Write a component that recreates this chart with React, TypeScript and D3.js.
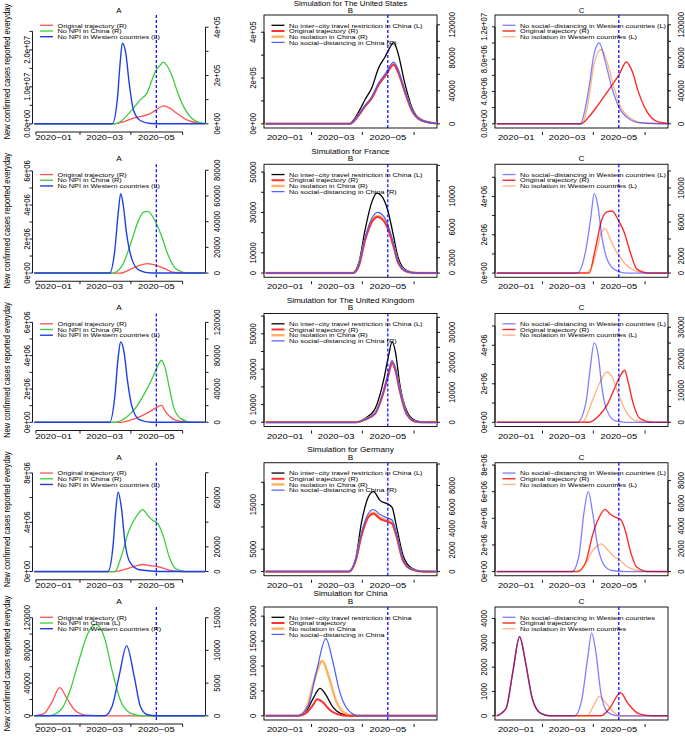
import * as d3 from "d3";

type Pt = [string, number];

// ---------- United States ----------
const usA_original: Pt[] = [["2019-12-09", 0], ["2020-03-12", 0], ["2020-03-24", 9000], ["2020-04-04", 23600], ["2020-04-12", 30000], ["2020-04-20", 37000], ["2020-04-26", 47000], ["2020-05-01", 58000], ["2020-05-09", 74000], ["2020-05-17", 65000], ["2020-05-25", 44000], ["2020-06-06", 16500], ["2020-06-21", 3000], ["2020-06-28", 1000]];
const usA_noNpiChina: Pt[] = [["2019-12-09", 0], ["2020-03-12", 0], ["2020-03-20", 9500], ["2020-03-28", 37000], ["2020-04-04", 65000], ["2020-04-12", 99000], ["2020-04-20", 127000], ["2020-04-26", 182000], ["2020-05-01", 223000], ["2020-05-06", 244000], ["2020-05-09", 255000], ["2020-05-13", 244000], ["2020-05-19", 203000], ["2020-05-25", 141000], ["2020-06-02", 72000], ["2020-06-10", 30000], ["2020-06-21", 5000], ["2020-06-28", 1500]];
const usA_noNpiWest: Pt[] = [["2019-12-09", 0], ["2020-03-10", 0], ["2020-03-16", 6.5e6], ["2020-03-19", 1.55e7], ["2020-03-22", 2.18e7], ["2020-03-26", 1.91e7], ["2020-03-30", 1.1e7], ["2020-04-04", 3.8e6], ["2020-04-12", 9e5], ["2020-04-24", 1e5], ["2020-05-10", 0], ["2020-06-28", 0]];
const usB_interCity: Pt[] = [["2019-12-09", 0], ["2020-03-16", 0], ["2020-03-28", 54000], ["2020-04-04", 105000], ["2020-04-12", 156000], ["2020-04-20", 243000], ["2020-04-28", 294000], ["2020-05-02", 323000], ["2020-05-08", 355000], ["2020-05-13", 309000], ["2020-05-21", 178000], ["2020-05-29", 75000], ["2020-06-10", 17000], ["2020-06-26", 2000], ["2020-06-28", 1000]];
const usB_original: Pt[] = [["2019-12-09", 0], ["2020-03-17", 0], ["2020-03-28", 10900], ["2020-04-04", 21000], ["2020-04-12", 31000], ["2020-04-20", 47000], ["2020-04-28", 58000], ["2020-05-08", 71500], ["2020-05-13", 63000], ["2020-05-21", 39000], ["2020-05-29", 17000], ["2020-06-10", 4000], ["2020-06-28", 300]];
const usB_noIsolation: Pt[] = [["2019-12-09", 0], ["2020-03-17", 0], ["2020-03-28", 11000], ["2020-04-04", 21300], ["2020-04-12", 31500], ["2020-04-20", 47600], ["2020-04-28", 58700], ["2020-05-08", 72300], ["2020-05-13", 63700], ["2020-05-21", 39500], ["2020-05-29", 17200], ["2020-06-10", 4100], ["2020-06-28", 300]];
const usB_noSocial: Pt[] = [["2019-12-09", 0], ["2020-03-17", 0], ["2020-03-28", 11300], ["2020-04-04", 22000], ["2020-04-12", 32500], ["2020-04-20", 49000], ["2020-04-28", 60500], ["2020-05-08", 74800], ["2020-05-13", 66000], ["2020-05-21", 40500], ["2020-05-29", 17800], ["2020-06-10", 4200], ["2020-06-28", 300]];
const usC_noSocialWest: Pt[] = [["2019-12-09", 0], ["2020-03-17", 0], ["2020-03-22", 1.7e6], ["2020-03-27", 4.6e6], ["2020-04-02", 8.75e6], ["2020-04-08", 1.0e7], ["2020-04-15", 7.7e6], ["2020-04-23", 4.4e6], ["2020-05-01", 2.1e6], ["2020-05-12", 7e5], ["2020-05-28", 1e5], ["2020-06-28", 0]];
const usC_original: Pt[] = [["2019-12-09", 0], ["2020-03-17", 0], ["2020-03-27", 8800], ["2020-04-08", 25000], ["2020-04-15", 35000], ["2020-04-23", 47000], ["2020-05-01", 59000], ["2020-05-10", 75000], ["2020-05-17", 63000], ["2020-05-24", 39000], ["2020-06-03", 15000], ["2020-06-13", 4000], ["2020-06-28", 500]];
const usC_noIsolationWest: Pt[] = [["2019-12-09", 0], ["2020-03-18", 0], ["2020-03-23", 1.2e6], ["2020-03-27", 3.4e6], ["2020-04-02", 7.5e6], ["2020-04-10", 9.2e6], ["2020-04-17", 7.7e6], ["2020-04-25", 4.6e6], ["2020-05-03", 2.1e6], ["2020-05-12", 9e5], ["2020-05-28", 1.5e5], ["2020-06-28", 0]];

// ---------- France ----------
const frA_original: Pt[] = [["2019-12-09", 0], ["2020-03-19", 0], ["2020-04-02", 3400], ["2020-04-11", 6000], ["2020-04-21", 7300], ["2020-05-01", 6000], ["2020-05-11", 3400], ["2020-05-20", 800], ["2020-06-05", 0], ["2020-06-28", 0]];
const frA_noNpiChina: Pt[] = [["2019-12-09", 0], ["2020-03-11", 0], ["2020-03-23", 7300], ["2020-04-02", 25400], ["2020-04-10", 41000], ["2020-04-16", 47500], ["2020-04-21", 48000], ["2020-04-27", 43600], ["2020-05-01", 38400], ["2020-05-07", 29300], ["2020-05-15", 13800], ["2020-05-24", 3400], ["2020-06-08", 0], ["2020-06-28", 0]];
const frA_noNpiWest: Pt[] = [["2019-12-09", 0], ["2020-03-07", 0], ["2020-03-13", 1.33e6], ["2020-03-17", 3.5e6], ["2020-03-20", 4.67e6], ["2020-03-23", 4.0e6], ["2020-03-27", 2.3e6], ["2020-04-02", 8.5e5], ["2020-04-11", 1.6e5], ["2020-04-25", 0], ["2020-06-28", 0]];
const frB_interCity: Pt[] = [["2019-12-09", 0], ["2020-03-20", 0], ["2020-03-28", 5400], ["2020-04-04", 21000], ["2020-04-12", 35000], ["2020-04-18", 39600], ["2020-04-24", 38000], ["2020-05-01", 31000], ["2020-05-08", 17800], ["2020-05-13", 7900], ["2020-05-23", 1300], ["2020-06-05", 0], ["2020-06-28", 0]];
const frB_original: Pt[] = [["2019-12-09", 0], ["2020-03-21", 0], ["2020-03-28", 1000], ["2020-04-04", 4200], ["2020-04-12", 6600], ["2020-04-19", 7300], ["2020-04-26", 6800], ["2020-05-01", 5800], ["2020-05-08", 3400], ["2020-05-13", 1400], ["2020-05-23", 200], ["2020-06-05", 0], ["2020-06-28", 0]];
const frB_noIsolation: Pt[] = [["2019-12-09", 0], ["2020-03-21", 0], ["2020-03-28", 1020], ["2020-04-04", 4280], ["2020-04-12", 6720], ["2020-04-19", 7430], ["2020-04-26", 6930], ["2020-05-01", 5900], ["2020-05-08", 3460], ["2020-05-13", 1430], ["2020-05-23", 200], ["2020-06-05", 0], ["2020-06-28", 0]];
const frB_noSocial: Pt[] = [["2019-12-09", 0], ["2020-03-21", 0], ["2020-03-28", 1100], ["2020-04-04", 4500], ["2020-04-12", 7100], ["2020-04-19", 7900], ["2020-04-26", 7400], ["2020-05-01", 6300], ["2020-05-08", 3700], ["2020-05-13", 1500], ["2020-05-23", 220], ["2020-06-05", 0], ["2020-06-28", 0]];
const frC_noSocialWest: Pt[] = [["2019-12-09", 0], ["2020-03-13", 0], ["2020-03-23", 1.18e6], ["2020-03-29", 2.9e6], ["2020-04-02", 4.15e6], ["2020-04-06", 3.6e6], ["2020-04-11", 1.9e6], ["2020-04-17", 7.5e5], ["2020-04-27", 1.5e5], ["2020-05-10", 0], ["2020-06-28", 0]];
const frC_original: Pt[] = [["2019-12-09", 0], ["2020-03-27", 0], ["2020-04-03", 2700], ["2020-04-11", 6300], ["2020-04-17", 7200], ["2020-04-23", 7300], ["2020-05-01", 6100], ["2020-05-07", 4900], ["2020-05-15", 2300], ["2020-05-22", 500], ["2020-06-05", 0], ["2020-06-28", 0]];
const frC_noIsolationWest: Pt[] = [["2019-12-09", 0], ["2020-03-22", 0], ["2020-03-30", 3e5], ["2020-04-05", 1.2e6], ["2020-04-10", 2.06e6], ["2020-04-15", 2.32e6], ["2020-04-21", 1.75e6], ["2020-04-27", 1.2e6], ["2020-05-01", 9.2e5], ["2020-05-08", 5e5], ["2020-05-15", 2.4e5], ["2020-05-28", 4e4], ["2020-06-28", 0]];

// ---------- United Kingdom ----------
const ukA_original: Pt[] = [["2019-12-09", 0], ["2020-03-19", 0], ["2020-04-06", 4400], ["2020-04-19", 10400], ["2020-04-29", 16400], ["2020-05-07", 20400], ["2020-05-12", 12400], ["2020-05-20", 4400], ["2020-05-30", 1000], ["2020-06-12", 0], ["2020-06-28", 0]];
const ukA_noNpiChina: Pt[] = [["2019-12-09", 0], ["2020-03-13", 0], ["2020-03-27", 6400], ["2020-04-06", 16400], ["2020-04-17", 34400], ["2020-04-27", 54500], ["2020-05-03", 68500], ["2020-05-07", 74500], ["2020-05-11", 66500], ["2020-05-17", 38400], ["2020-05-22", 16400], ["2020-05-30", 4400], ["2020-06-12", 0], ["2020-06-28", 0]];
const ukA_noNpiWest: Pt[] = [["2019-12-09", 0], ["2020-03-07", 0], ["2020-03-13", 1.52e6], ["2020-03-17", 3.9e6], ["2020-03-20", 4.82e6], ["2020-03-24", 4.2e6], ["2020-03-28", 2.5e6], ["2020-04-02", 1.0e6], ["2020-04-11", 1.6e5], ["2020-04-25", 0], ["2020-06-28", 0]];
const ukB_interCity: Pt[] = [["2019-12-09", 0], ["2020-03-24", 0], ["2020-04-04", 2100], ["2020-04-16", 7700], ["2020-04-26", 23700], ["2020-05-02", 37900], ["2020-05-06", 45400], ["2020-05-10", 39700], ["2020-05-15", 21900], ["2020-05-23", 6800], ["2020-06-02", 1100], ["2020-06-15", 0], ["2020-06-28", 0]];
const ukB_original: Pt[] = [["2019-12-09", 0], ["2020-03-24", 0], ["2020-04-04", 900], ["2020-04-16", 2900], ["2020-04-26", 10100], ["2020-05-02", 16200], ["2020-05-06", 19800], ["2020-05-10", 17300], ["2020-05-15", 10700], ["2020-05-23", 2900], ["2020-06-02", 300], ["2020-06-15", 0], ["2020-06-28", 0]];
const ukB_noIsolation: Pt[] = [["2019-12-09", 0], ["2020-03-24", 0], ["2020-04-04", 920], ["2020-04-16", 2950], ["2020-04-26", 10300], ["2020-05-02", 16500], ["2020-05-06", 20100], ["2020-05-10", 17600], ["2020-05-15", 10900], ["2020-05-23", 2950], ["2020-06-02", 300], ["2020-06-15", 0], ["2020-06-28", 0]];
const ukB_noSocial: Pt[] = [["2019-12-09", 0], ["2020-03-24", 0], ["2020-04-04", 950], ["2020-04-16", 3050], ["2020-04-26", 10500], ["2020-05-02", 16900], ["2020-05-06", 20700], ["2020-05-10", 18000], ["2020-05-15", 11100], ["2020-05-23", 3000], ["2020-06-02", 320], ["2020-06-15", 0], ["2020-06-28", 0]];
const ukC_noSocialWest: Pt[] = [["2019-12-09", 0], ["2020-03-13", 0], ["2020-03-23", 9.7e5], ["2020-03-28", 2.7e6], ["2020-04-02", 4.12e6], ["2020-04-07", 3.4e6], ["2020-04-11", 1.83e6], ["2020-04-17", 6.2e5], ["2020-04-27", 7e4], ["2020-05-10", 0], ["2020-06-28", 0]];
const ukC_original: Pt[] = [["2019-12-09", 0], ["2020-03-27", 0], ["2020-04-08", 2200], ["2020-04-17", 5400], ["2020-04-25", 10100], ["2020-05-03", 14800], ["2020-05-08", 16400], ["2020-05-12", 12700], ["2020-05-18", 5900], ["2020-05-26", 1200], ["2020-06-10", 0], ["2020-06-28", 0]];
const ukC_noIsolationWest: Pt[] = [["2019-12-09", 0], ["2020-03-19", 0], ["2020-03-31", 1.14e6], ["2020-04-08", 2.0e6], ["2020-04-17", 2.61e6], ["2020-04-23", 2.35e6], ["2020-05-01", 1.4e6], ["2020-05-11", 4.5e5], ["2020-05-22", 7e4], ["2020-06-05", 0], ["2020-06-28", 0]];

// ---------- Germany ----------
const deA_original: Pt[] = [["2019-12-09", 0], ["2020-03-13", 0], ["2020-03-27", 2200], ["2020-04-08", 4900], ["2020-04-16", 5700], ["2020-04-23", 4900], ["2020-05-01", 4300], ["2020-05-09", 2700], ["2020-05-19", 800], ["2020-06-03", 0], ["2020-06-28", 0]];
const deA_noNpiChina: Pt[] = [["2019-12-09", 0], ["2020-03-13", 0], ["2020-03-21", 13000], ["2020-03-29", 31800], ["2020-04-08", 45300], ["2020-04-15", 50200], ["2020-04-21", 45300], ["2020-04-27", 41300], ["2020-05-03", 38600], ["2020-05-09", 29100], ["2020-05-17", 10300], ["2020-05-24", 2200], ["2020-06-05", 0], ["2020-06-28", 0]];
const deA_noNpiWest: Pt[] = [["2019-12-09", 0], ["2020-03-05", 0], ["2020-03-11", 2.1e6], ["2020-03-14", 4.8e6], ["2020-03-17", 6.43e6], ["2020-03-21", 5.08e6], ["2020-03-25", 2.38e6], ["2020-03-31", 7.5e5], ["2020-04-11", 1.5e5], ["2020-04-25", 5e4], ["2020-05-10", 0], ["2020-06-28", 0]];
const deB_interCity: Pt[] = [["2019-12-09", 0], ["2020-03-16", 0], ["2020-03-24", 2800], ["2020-03-31", 11000], ["2020-04-08", 16700], ["2020-04-14", 17900], ["2020-04-22", 15900], ["2020-04-30", 15200], ["2020-05-06", 14400], ["2020-05-11", 10300], ["2020-05-19", 3600], ["2020-05-29", 800], ["2020-06-12", 0], ["2020-06-28", 0]];
const deB_original: Pt[] = [["2019-12-09", 0], ["2020-03-16", 0], ["2020-03-24", 1000], ["2020-03-31", 3350], ["2020-04-08", 5050], ["2020-04-14", 5370], ["2020-04-22", 4900], ["2020-04-30", 4650], ["2020-05-06", 4440], ["2020-05-11", 3350], ["2020-05-19", 1000], ["2020-05-29", 200], ["2020-06-12", 0], ["2020-06-28", 0]];
const deB_noIsolation: Pt[] = [["2019-12-09", 0], ["2020-03-16", 0], ["2020-03-24", 1020], ["2020-03-31", 3420], ["2020-04-08", 5150], ["2020-04-14", 5480], ["2020-04-22", 5000], ["2020-04-30", 4740], ["2020-05-06", 4530], ["2020-05-11", 3420], ["2020-05-19", 1020], ["2020-05-29", 200], ["2020-06-12", 0], ["2020-06-28", 0]];
const deB_noSocial: Pt[] = [["2019-12-09", 0], ["2020-03-16", 0], ["2020-03-24", 1100], ["2020-03-31", 3600], ["2020-04-08", 5400], ["2020-04-14", 5770], ["2020-04-22", 5300], ["2020-04-30", 5000], ["2020-05-06", 4800], ["2020-05-11", 3600], ["2020-05-19", 1100], ["2020-05-29", 220], ["2020-06-12", 0], ["2020-06-28", 0]];
const deC_noSocialWest: Pt[] = [["2019-12-09", 0], ["2020-03-07", 0], ["2020-03-15", 1.2e6], ["2020-03-21", 4.46e6], ["2020-03-26", 6.0e6], ["2020-03-31", 4.46e6], ["2020-04-06", 1.95e6], ["2020-04-14", 4.5e5], ["2020-04-23", 8e4], ["2020-05-10", 0], ["2020-06-28", 0]];
const deC_original: Pt[] = [["2019-12-09", 0], ["2020-03-13", 0], ["2020-03-23", 820], ["2020-03-31", 3200], ["2020-04-07", 4650], ["2020-04-15", 5470], ["2020-04-20", 5100], ["2020-04-26", 4800], ["2020-05-03", 4600], ["2020-05-08", 3770], ["2020-05-15", 1700], ["2020-05-22", 400], ["2020-06-05", 0], ["2020-06-28", 0]];
const deC_noIsolationWest: Pt[] = [["2019-12-09", 0], ["2020-03-13", 0], ["2020-03-23", 5.8e5], ["2020-03-31", 1.58e6], ["2020-04-06", 1.95e6], ["2020-04-10", 2.08e6], ["2020-04-17", 1.7e6], ["2020-04-25", 1.15e6], ["2020-05-01", 9e5], ["2020-05-12", 3.2e5], ["2020-05-28", 3e4], ["2020-06-28", 0]];

// ---------- China ----------
const cnA_original: Pt[] = [["2019-12-09", 0], ["2019-12-20", 300], ["2019-12-30", 2100], ["2020-01-08", 4300], ["2020-01-16", 2800], ["2020-01-26", 850], ["2020-02-08", 100], ["2020-03-01", 0], ["2020-06-28", 0]];
const cnA_noNpiChina: Pt[] = [["2019-12-09", 0], ["2019-12-26", 0], ["2020-01-10", 8000], ["2020-01-20", 30000], ["2020-01-30", 65000], ["2020-02-10", 100000], ["2020-02-20", 112000], ["2020-03-01", 95000], ["2020-03-10", 55000], ["2020-03-20", 18000], ["2020-04-01", 3000], ["2020-04-15", 0], ["2020-06-28", 0]];
const cnA_noNpiWest: Pt[] = [["2019-12-09", 0], ["2020-03-01", 0], ["2020-03-10", 1500], ["2020-03-18", 6000], ["2020-03-27", 10700], ["2020-04-05", 6000], ["2020-04-12", 1500], ["2020-04-20", 200], ["2020-05-01", 0], ["2020-06-28", 0]];
const cnB_interCity: Pt[] = [["2019-12-09", 0], ["2020-01-16", 0], ["2020-01-26", 1000], ["2020-02-03", 3500], ["2020-02-11", 5500], ["2020-02-18", 4200], ["2020-02-26", 1800], ["2020-03-06", 500], ["2020-03-20", 0], ["2020-06-28", 0]];
const cnB_original: Pt[] = [["2019-12-09", 0], ["2020-01-16", 0], ["2020-01-26", 600], ["2020-02-02", 2000], ["2020-02-08", 3300], ["2020-02-15", 2600], ["2020-02-23", 1100], ["2020-03-03", 300], ["2020-03-15", 0], ["2020-06-28", 0]];
const cnB_noIsolation: Pt[] = [["2019-12-09", 0], ["2020-01-16", 0], ["2020-01-26", 1500], ["2020-02-04", 7000], ["2020-02-14", 11000], ["2020-02-21", 8000], ["2020-03-01", 3000], ["2020-03-10", 700], ["2020-03-22", 0], ["2020-06-28", 0]];
const cnB_noSocial: Pt[] = [["2019-12-09", 0], ["2020-01-16", 0], ["2020-01-28", 2000], ["2020-02-07", 9000], ["2020-02-18", 15500], ["2020-02-26", 11000], ["2020-03-05", 5000], ["2020-03-15", 1200], ["2020-03-28", 0], ["2020-06-28", 0]];
const cnC_noSocialWest: Pt[] = [["2019-12-09", 0], ["2019-12-20", 300], ["2019-12-28", 1800], ["2020-01-05", 3250], ["2020-01-12", 2200], ["2020-01-20", 700], ["2020-01-30", 100], ["2020-02-10", 0], ["2020-03-10", 0], ["2020-03-18", 600], ["2020-03-25", 2300], ["2020-03-30", 3400], ["2020-04-04", 2600], ["2020-04-10", 900], ["2020-04-18", 150], ["2020-04-30", 0], ["2020-06-28", 0]];
const cnC_original: Pt[] = [["2019-12-09", 0], ["2019-12-20", 300], ["2019-12-28", 1800], ["2020-01-05", 3250], ["2020-01-12", 2200], ["2020-01-20", 700], ["2020-01-30", 100], ["2020-02-10", 0], ["2020-04-10", 0], ["2020-04-20", 300], ["2020-05-03", 950], ["2020-05-12", 500], ["2020-05-25", 80], ["2020-06-10", 0], ["2020-06-28", 0]];
const cnC_noIsolationWest: Pt[] = [["2019-12-09", 0], ["2019-12-20", 300], ["2019-12-28", 1800], ["2020-01-05", 3250], ["2020-01-12", 2200], ["2020-01-20", 700], ["2020-01-30", 100], ["2020-02-10", 0], ["2020-03-25", 0], ["2020-04-01", 400], ["2020-04-08", 800], ["2020-04-15", 550], ["2020-04-25", 150], ["2020-05-05", 0], ["2020-06-28", 0]];

// ---------- titles, legends, axes ----------
const countries = ["The United States", "France", "The United Kingdom", "Germany", "China"];
const legendA = ["Original trajectory (R)", "No NPI in China (R)", "No NPI in Western countries (L)"];
const legendB = ["No inter-city travel restriction in China (L)", "Original trajectory (R)", "No isolation in China (R)", "No social-distancing in China (R)"];
const legendC = ["No social-distancing in Western countries (L)", "Original trajectory (R)", "No isolation in Western countries (L)"];
const legendA_cn = ["Original trajectory (R)", "No NPI in China (L)", "No NPI in Western countries (R)"];
const legendB_cn = ["No inter-city travel restriction in China", "Original trajectory", "No isolation in China", "No social-distancing in China"];
const legendC_cn = ["No social-distancing in Western countries", "Original trajectory", "No isolation in Western countries"];
const xLabels = ["2020-01", "2020-03", "2020-05"];
const xTicks = ["2020-02-01", "2020-04-01", "2020-06-01"];
const interventionDate = "2020-05-01";

// axis: [max value at plot top, tick step, shown labels]
type Ax = [number, number, string[]];
const axes: Ax[][] = [
  [[2.83e7, 5e6, ["0.0e+00", "1.0e+07", "2.0e+07"]], [4.33e5, 1e5, ["0e+00", "2e+05", "4e+05"]],
   [4.57e5, 1e5, ["0e+00", "2e+05", "4e+05"]], [126800, 20000, ["0", "40000", "80000", "120000"]],
   [1.295e7, 2e6, ["0.0e+00", "4.0e+06", "8.0e+06", "1.2e+07"]], [126800, 20000, ["0", "40000", "80000", "120000"]]],
  [[6.15e6, 1e6, ["0e+00", "2e+06", "4e+06", "6e+06"]], [81400, 20000, ["0", "20000", "40000", "60000", "80000"]],
   [51800, 10000, ["0", "10000", "30000", "50000"]], [13600, 2000, ["0", "2000", "6000", "10000"]],
   [5.46e6, 1e6, ["0e+00", "2e+06", "4e+06"]], [12300, 2000, ["0", "2000", "6000", "10000"]]],
  [[6.28e6, 1e6, ["0e+00", "2e+06", "4e+06", "6e+06"]], [125600, 20000, ["0", "40000", "80000", "120000"]],
   [59100, 10000, ["0", "10000", "30000", "50000"]], [34900, 5000, ["0", "10000", "20000", "30000"]],
   [5.43e6, 1e6, ["0e+00", "2e+06", "4e+06"]], [33000, 5000, ["0", "10000", "20000", "30000"]]],
  [[8.49e6, 2e6, ["0e+00", "4e+06", "8e+06"]], [84700, 20000, ["0", "20000", "60000"]],
   [23450, 5000, ["0", "5000", "15000"]], [9730, 2000, ["0", "2000", "4000", "6000", "8000"]],
   [7.86e6, 2e6, ["0e+00", "2e+06", "4e+06", "6e+06", "8e+06"]], [9200, 2000, ["0", "2000", "4000", "6000", "8000"]]],
  [[128000, 20000, ["0", "40000", "80000", "120000"]], [16000, 5000, ["0", "5000", "10000", "15000"]],
   [21000, 5000, ["0", "5000", "10000", "15000", "20000"]], [0, 0, []],
   [4300, 1000, ["0", "1000", "2000", "3000", "4000"]], [0, 0, []]],
];

const seriesA = [[usA_original, usA_noNpiChina, usA_noNpiWest], [frA_original, frA_noNpiChina, frA_noNpiWest], [ukA_original, ukA_noNpiChina, ukA_noNpiWest], [deA_original, deA_noNpiChina, deA_noNpiWest], [cnA_original, cnA_noNpiChina, cnA_noNpiWest]];
const seriesB = [[usB_interCity, usB_original, usB_noIsolation, usB_noSocial], [frB_interCity, frB_original, frB_noIsolation, frB_noSocial], [ukB_interCity, ukB_original, ukB_noIsolation, ukB_noSocial], [deB_interCity, deB_original, deB_noIsolation, deB_noSocial], [cnB_interCity, cnB_original, cnB_noIsolation, cnB_noSocial]];
const seriesC = [[usC_noSocialWest, usC_original, usC_noIsolationWest], [frC_noSocialWest, frC_original, frC_noIsolationWest], [ukC_noSocialWest, ukC_original, ukC_noIsolationWest], [deC_noSocialWest, deC_original, deC_noIsolationWest], [cnC_noSocialWest, cnC_original, cnC_noIsolationWest]];

// ---------- layout ----------
const SX = 1.215; // picture is stretched horizontally
const FONT = "'Liberation Sans', Arial, Helvetica, sans-serif";
const COLS: [number, number][] = [[32.5, 205.5], [264, 437], [495, 668]];
const ROW_TOPS = [15, 164.25, 313.5, 462.75, 607];
const PH = 113;
const PAD = (PH * 0.04) / 1.08;
const LEFT_OFF = [-6, -11, -11.5];
const RIGHT_OFF = [11, 14.5, 13];

const styleA = [{ c: "#FF5252", w: 1.3 }, { c: "#3DCC3D", w: 1.3 }, { c: "#1F3FE6", w: 1.4 }];
const styleB = [{ c: "#000000", w: 1.3 }, { c: "#FF3030", w: 2 }, { c: "#FFB060", w: 2.4 }, { c: "#4A5CFF", w: 1.2 }];
const styleC = [{ c: "rgba(0,0,255,0.5)", w: 1.3 }, { c: "#FF2A2A", w: 1.4 }, { c: "rgba(255,100,0,0.5)", w: 1.3 }];
const sidesA = [["R", "R", "L"], ["R", "R", "L"], ["R", "R", "L"], ["R", "R", "L"], ["R", "L", "R"]];
const sidesB = ["L", "R", "R", "R"];
const sidesC = ["L", "R", "L"];

const parse = d3.timeParse("%Y-%m-%d");
const X_DOMAIN = [parse("2019-12-07")!, parse("2020-06-28")!];

function Txt({ x, y, size, anchor = "middle", rot = false, children }: any) {
  return (
    <text
      transform={`translate(${x},${y}) scale(${SX},1)${rot ? " rotate(-90)" : ""}`}
      fontSize={size}
      textAnchor={anchor}
      dominantBaseline="central"
      fill="#000"
    >
      {children}
    </text>
  );
}

function Panel({ row, col }: { row: number; col: number }) {
  const [x0, x1] = COLS[col];
  const top = ROW_TOPS[row];
  const bottom = top + PH;
  const x = d3.scaleTime().domain(X_DOMAIN).range([x0, x1]);
  const [lAx, rAx] = [axes[row][col * 2], axes[row][col * 2 + 1]];
  const yL = d3.scaleLinear().domain([0, lAx[0]]).range([bottom - PAD, top + PAD]);
  const yR = d3.scaleLinear().domain([0, rAx[0] || 1]).range([bottom - PAD, top + PAD]);

  const data = col === 0 ? seriesA[row] : col === 1 ? seriesB[row] : seriesC[row];
  const styles = col === 0 ? styleA : col === 1 ? styleB : styleC;
  const sides = col === 0 ? sidesA[row] : col === 1 ? sidesB : sidesC;
  const labels = row === 4
    ? [legendA_cn, legendB_cn, legendC_cn][col]
    : [legendA, legendB, legendC][col];
  const order = col === 0 ? [0, 1, 2] : col === 1 ? [0, 2, 1, 3] : [1, 2, 0];

  const clipId = `clip-${row}-${col}`;
  const mkLine = (i: number) => {
    const y = row === 4 && col > 0 ? yL : sides[i] === "R" ? yR : yL;
    return d3.line<Pt>()
      .x((d) => x(parse(d[0])!))
      .y((d) => y(d[1]))
      .curve(d3.curveMonotoneX)(data[i]) || "";
  };

  const yAxis = (ax: Ax, scale: d3.ScaleLinear<number, number>, side: "L" | "R") => {
    if (!ax[1]) return null;
    const ticks = d3.range(0, ax[0] * 1.04 + 1e-6, ax[1]);
    const ax_x = side === "L" ? x0 : x1;
    const dir = side === "L" ? -1 : 1;
    const off = side === "L" ? LEFT_OFF[col] : RIGHT_OFF[col];
    return (
      <g>
        <line x1={ax_x} x2={ax_x} y1={scale(0)} y2={scale(ticks[ticks.length - 1])} stroke="#000" strokeWidth={0.9} />
        {ticks.map((t) => (
          <line key={t} x1={ax_x} x2={ax_x + dir * 3} y1={scale(t)} y2={scale(t)} stroke="#000" strokeWidth={0.9} />
        ))}
        {ax[2].map((s) => (
          <Txt key={s} x={ax_x + off} y={scale(Number(s))} size={7.7} rot>{s}</Txt>
        ))}
      </g>
    );
  };

  const mid = (x0 + x1) / 2;
  const titleY = row === 0 ? 3.3 : top - 12.8;
  const letterY = row === 0 ? 11 : top - 5.4;
  return (
    <g>
      <defs>
        <clipPath id={clipId}>
          <rect x={x0} y={top} width={x1 - x0} height={PH} />
        </clipPath>
      </defs>
      {col > 0 && <rect x={x0} y={top} width={x1 - x0} height={PH} fill="none" stroke="#000" strokeWidth={0.9} />}
      {col === 1 && <Txt x={mid} y={titleY} size={row === 0 ? 6.5 : 6.8}>{`Simulation for ${countries[row]}`}</Txt>}
      <Txt x={mid} y={letterY} size={row === 0 ? 6.5 : 6.8}>{["A", "B", "C"][col]}</Txt>
      {col === 0 && (
        <Txt x={7} y={top + PH / 2} size={7.6} rot>New confirmed cases reported everyday</Txt>
      )}

      {yAxis(lAx, yL, "L")}
      {yAxis(rAx, yR, "R")}

      {/* x axis */}
      {col === 0 && (
        <line x1={x(parse("2019-12-11")!)} x2={x(parse(xTicks[2])!)} y1={bottom + 4} y2={bottom + 4} stroke="#000" strokeWidth={0.9} />
      )}
      {(col === 0 ? ["2019-12-11", ...xTicks] : xTicks).map((t) => (
        <line key={t} x1={x(parse(t)!)} x2={x(parse(t)!)} y1={bottom + 4} y2={bottom + 7} stroke="#000" strokeWidth={0.9} />
      ))}
      {xLabels.map((s) => (
        <Txt key={s} x={x(parse(s + "-01")!)} y={bottom + 9.5} size={7.7}>{s.replace("-", "\u2212")}</Txt>
      ))}

      <g clipPath={`url(#${clipId})`}>
        {order.map((i) => (
          <path key={i} d={mkLine(i)} fill="none" stroke={styles[i].c} strokeWidth={styles[i].w} strokeLinejoin="round" />
        ))}
      </g>

      <line x1={x(parse(interventionDate)!)} x2={x(parse(interventionDate)!)} y1={top} y2={bottom}
        stroke="#0000FF" strokeWidth={1.2} strokeDasharray="3,2" />

      {labels.map((s, i) => {
        const ly = top + 10.3 + i * 5.7;
        return (
          <g key={s}>
            <line x1={x0 + 7.5} x2={x0 + 20.5} y1={ly} y2={ly} stroke={styles[i].c} strokeWidth={styles[i].w} />
            <Txt x={x0 + 25} y={ly} size={6} anchor="start">{s.replace(/-/g, "\u2212")}</Txt>
          </g>
        );
      })}
    </g>
  );
}

export default function App() {
  return (
    <svg width={685} height={736} style={{ position: "absolute", left: 0, top: 0, background: "#fff" }} fontFamily={FONT}>
      <rect width={685} height={736} fill="#fff" />
      {ROW_TOPS.map((_, r) => [0, 1, 2].map((c) => <Panel key={`${r}-${c}`} row={r} col={c} />))}
    </svg>
  );
}
